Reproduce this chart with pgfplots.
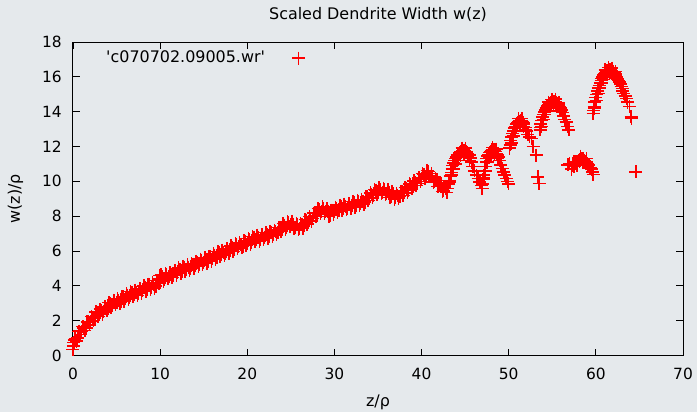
\documentclass[border=0pt]{standalone}
\usepackage{fontspec}
\setmainfont{DejaVu Sans}
\usepackage{pgfplots}
\pgfplotsset{compat=1.18}
\definecolor{bgc}{RGB}{229,233,236}
\pgfplotstableread{
x y
0.00 0.35
0.05 0.55
0.10 0.75
0.15 0.90
0.25 0.98
0.50 1.00
0.75 1.40
1.00 1.37
1.25 1.59
1.50 1.58
1.75 1.95
2.00 1.94
2.25 2.21
2.50 2.15
2.75 2.47
3.00 2.40
3.25 2.57
3.50 2.50
3.75 2.81
4.00 2.74
4.25 2.96
4.50 2.85
4.75 3.13
5.00 3.03
5.25 3.17
5.50 3.08
5.75 3.36
6.00 3.26
6.25 3.47
6.50 3.35
6.75 3.62
7.00 3.50
7.25 3.64
7.50 3.55
7.75 3.83
8.00 3.72
8.25 3.91
8.50 3.78
8.75 4.05
9.00 3.92
9.25 4.07
9.50 3.98
9.75 4.30
9.90 4.60
10.00 4.39
10.25 4.53
10.50 4.35
10.75 4.64
11.00 4.53
11.25 4.67
11.50 4.58
11.75 4.86
12.00 4.76
12.25 4.95
12.50 4.81
12.75 5.08
13.00 4.95
13.25 5.08
13.50 4.98
13.75 5.25
14.00 5.14
14.25 5.33
14.50 5.20
14.75 5.47
15.00 5.35
15.25 5.49
15.50 5.39
15.75 5.67
16.00 5.56
16.25 5.76
16.50 5.64
16.75 5.91
17.00 5.80
17.25 5.94
17.50 5.85
17.75 6.12
18.00 6.02
18.25 6.22
18.50 6.09
18.75 6.37
19.00 6.25
19.25 6.38
19.50 6.28
19.75 6.55
20.00 6.44
20.25 6.64
20.50 6.51
20.75 6.79
21.00 6.67
21.25 6.78
21.50 6.67
21.75 6.92
22.00 6.79
22.25 6.96
22.50 6.82
22.75 7.07
23.00 6.93
23.25 7.10
23.50 7.05
23.75 7.36
24.00 7.29
24.25 7.48
24.50 7.35
24.75 7.62
25.00 7.50
25.25 7.53
25.50 7.33
25.75 7.50
26.00 7.29
26.25 7.53
26.50 7.45
26.75 7.77
27.00 7.70
27.25 7.89
27.50 7.86
27.75 8.19
28.00 8.14
28.25 8.36
28.50 8.25
28.75 8.45
29.00 8.25
29.25 8.26
29.50 8.03
29.75 8.33
30.00 8.24
30.25 8.43
30.50 8.30
30.75 8.57
31.00 8.45
31.25 8.57
31.50 8.46
31.75 8.71
32.00 8.59
32.25 8.76
32.50 8.60
32.75 8.85
33.00 8.70
33.25 8.87
33.50 8.81
33.75 9.11
34.00 9.04
34.25 9.27
34.50 9.18
34.75 9.48
35.00 9.40
35.25 9.51
35.50 9.38
35.75 9.53
36.00 9.29
36.25 9.37
36.50 9.13
36.75 9.28
37.00 9.05
37.25 9.21
37.50 9.13
37.75 9.43
38.00 9.34
38.25 9.58
38.50 9.50
38.75 9.82
39.00 9.75
39.25 9.93
39.50 9.88
39.75 10.20
40.00 10.14
40.25 10.38
40.50 10.30
40.75 10.57
41.00 10.30
41.25 10.26
41.50 9.98
41.75 10.05
42.00 9.74
42.25 9.76
42.50 9.45
42.75 9.58
}\mainA
\pgfplotstableread{
x y
0.375 0.82
0.625 1.39
0.875 1.20
1.125 1.66
1.375 1.43
1.625 1.93
1.875 1.76
2.125 2.25
2.375 2.01
2.625 2.50
2.875 2.25
3.125 2.66
3.375 2.38
3.625 2.82
3.875 2.59
4.125 3.03
4.375 2.73
4.625 3.18
4.875 2.90
5.125 3.28
5.375 2.97
5.625 3.38
5.875 3.12
6.125 3.54
6.375 3.24
6.625 3.68
6.875 3.38
7.125 3.75
7.375 3.44
7.625 3.85
7.875 3.58
8.125 4.00
8.375 3.68
8.625 4.10
8.875 3.80
9.125 4.17
9.375 3.87
9.625 4.30
9.875 4.16
10.125 4.64
10.375 4.27
10.625 4.68
10.875 4.40
11.125 4.78
11.375 4.47
11.625 4.88
11.875 4.62
12.125 5.03
12.375 4.71
12.625 5.13
12.875 4.83
13.125 5.20
13.375 4.88
13.625 5.28
13.875 5.01
14.125 5.42
14.375 5.10
14.625 5.53
14.875 5.23
15.125 5.60
15.375 5.28
15.625 5.69
15.875 5.42
16.125 5.84
16.375 5.53
16.625 5.96
16.875 5.67
17.125 6.05
17.375 5.74
17.625 6.14
17.875 5.88
18.125 6.30
18.375 5.98
18.625 6.42
18.875 6.12
19.125 6.50
19.375 6.18
19.625 6.58
19.875 6.31
20.125 6.72
20.375 6.40
20.625 6.84
20.875 6.54
21.125 6.91
21.375 6.57
21.625 6.95
21.875 6.67
22.125 7.06
22.375 6.72
22.625 7.13
22.875 6.82
23.125 7.20
23.375 6.92
23.625 7.36
23.875 7.14
24.125 7.57
24.375 7.25
24.625 7.68
24.875 7.38
25.125 7.70
25.375 7.28
25.625 7.58
25.875 7.21
26.125 7.59
26.375 7.32
26.625 7.80
26.875 7.55
27.125 7.98
27.375 7.72
27.625 8.18
27.875 7.98
28.125 8.43
28.375 8.13
28.625 8.54
28.875 8.16
29.125 8.43
29.375 7.99
29.625 8.34
29.875 8.09
30.125 8.52
30.375 8.20
30.625 8.63
30.875 8.33
31.125 8.69
31.375 8.36
31.625 8.74
31.875 8.46
32.125 8.85
32.375 8.51
32.625 8.91
32.875 8.59
33.125 8.97
33.375 8.68
33.625 9.12
33.875 8.89
34.125 9.34
34.375 9.05
34.625 9.52
34.875 9.26
35.125 9.63
35.375 9.29
35.625 9.61
35.875 9.22
36.125 9.51
36.375 9.08
36.625 9.39
36.875 8.98
37.125 9.31
37.375 9.01
37.625 9.44
37.875 9.19
38.125 9.64
38.375 9.37
38.625 9.85
38.875 9.60
39.125 10.02
39.375 9.75
39.625 10.20
39.875 9.98
40.125 10.44
40.375 10.17
40.625 10.63
40.875 10.25
41.125 10.46
41.375 9.96
41.625 10.18
41.875 9.71
42.125 9.93
42.375 9.43
42.625 9.71
}\mainB
\pgfplotstableread{
x y
42.90 9.35
43.00 9.60
43.10 9.85
43.20 10.05
43.30 10.30
43.40 10.50
43.50 10.70
43.60 10.90
43.70 11.05
43.80 11.20
43.90 11.30
44.00 11.40
44.10 11.50
44.20 11.55
44.30 11.60
44.40 11.65
44.50 11.70
44.60 11.72
44.70 11.75
44.80 11.78
44.90 11.75
45.00 11.72
45.10 11.70
45.20 11.65
45.30 11.60
45.45 11.50
45.60 11.35
45.75 11.10
45.90 10.85
46.10 10.60
46.30 10.35
46.50 10.15
46.70 9.95
46.85 9.75
46.95 9.60
43.25 9.95
43.45 10.35
43.65 10.70
43.85 11.00
44.05 11.20
44.25 11.40
44.45 11.50
44.65 11.90
44.85 11.55
45.05 11.90
45.25 11.45
45.50 11.20
47.00 9.85
47.05 10.10
47.10 10.35
47.20 10.60
47.30 10.85
47.40 11.10
47.50 11.30
47.60 11.45
47.70 11.55
47.80 11.65
47.90 11.72
48.00 11.78
48.10 11.80
48.20 11.82
48.30 11.80
48.40 11.75
48.50 11.70
48.60 11.60
48.70 11.50
48.80 11.40
48.95 11.20
49.10 10.95
49.25 10.75
49.40 10.55
49.55 10.35
49.70 10.15
49.85 10.00
50.00 9.85
47.15 10.20
47.35 10.60
47.55 11.10
47.75 11.35
47.95 11.55
48.15 11.95
48.35 11.60
48.55 11.85
48.75 11.30
50.10 11.90
50.15 12.10
50.25 12.35
50.35 12.55
50.45 12.75
50.55 12.90
50.65 13.05
50.75 13.15
50.85 13.25
50.95 13.30
51.05 13.38
51.15 13.42
51.25 13.45
51.35 13.47
51.45 13.45
51.55 13.42
51.65 13.35
51.75 13.25
51.90 13.10
52.05 12.90
52.20 12.70
52.40 12.55
52.60 12.45
52.80 12.00
53.15 11.50
53.35 10.25
53.50 9.88
50.30 12.20
50.50 12.60
50.70 12.85
50.90 13.10
51.10 13.60
51.30 13.25
51.50 13.60
51.70 13.15
51.95 12.95
53.60 12.95
53.65 13.10
53.70 13.30
53.80 13.50
53.90 13.70
54.00 13.85
54.10 13.98
54.20 14.10
54.30 14.20
54.40 14.28
54.50 14.35
54.60 14.40
54.70 14.45
54.80 14.50
54.90 14.52
55.00 14.55
55.10 14.57
55.20 14.58
55.30 14.57
55.40 14.55
55.50 14.50
55.60 14.45
55.70 14.38
55.80 14.30
55.90 14.20
56.00 14.10
56.15 13.95
56.30 13.75
56.45 13.55
56.60 13.40
56.75 13.15
56.90 12.95
53.75 13.15
53.95 13.55
54.15 13.85
54.35 14.05
54.55 14.55
54.75 14.30
54.95 14.70
55.15 14.35
55.35 14.72
55.55 14.30
55.75 14.50
55.95 14.05
56.80 10.95
57.00 11.00
57.20 10.70
57.30 10.90
57.40 11.00
57.50 10.85
57.60 11.00
57.70 11.10
57.80 11.05
57.90 11.15
58.00 11.20
58.10 11.15
58.20 11.25
58.30 11.28
58.40 11.30
58.50 11.30
58.60 11.25
58.70 11.20
58.80 11.15
58.90 11.10
59.00 11.00
59.10 10.95
59.20 10.90
59.35 10.80
59.50 10.70
59.65 10.55
59.70 10.40
57.45 11.15
57.85 10.90
58.25 11.45
58.55 11.10
58.95 11.30
59.25 10.75
59.70 13.90
59.72 14.08
59.80 14.30
59.90 14.55
60.00 14.80
60.10 15.00
60.20 15.20
60.30 15.35
60.40 15.50
60.50 15.65
60.60 15.78
60.70 15.90
60.80 16.00
60.90 16.10
61.00 16.18
61.10 16.25
61.20 16.30
61.30 16.35
61.40 16.38
61.50 16.40
61.60 16.40
61.70 16.38
61.80 16.35
61.90 16.32
62.00 16.28
62.10 16.22
62.20 16.15
62.30 16.08
62.40 16.00
62.50 15.90
62.60 15.80
62.70 15.70
62.80 15.58
62.90 15.45
63.00 15.32
63.10 15.20
63.20 15.05
63.35 14.90
63.50 14.75
63.65 14.55
63.85 14.30
64.05 13.70
64.10 13.60
64.60 10.55
59.85 14.20
60.05 14.65
60.25 15.05
60.45 15.35
60.65 15.65
60.85 15.85
61.05 16.40
61.25 16.15
61.45 16.55
61.65 16.25
61.85 16.50
62.05 16.10
62.25 16.30
62.45 15.85
}\humps
\begin{document}
\fontsize{16}{19}\selectfont
\begin{tikzpicture}
\fill[bgc] (-73bp,-56.5bp) rectangle (624bp,355.5bp);
\begin{axis}[
  at={(0,0)}, anchor=south west,
  scale only axis, width=610bp, height=313.5bp,
  xmin=0, xmax=70, ymin=0, ymax=18,
  xtick={0,10,...,70}, ytick={0,2,...,18},
  tick align=inside, major tick length=7bp,
  every tick/.style={black, line width=0.9bp},
  axis line style={black, line width=1bp},
  /pgf/number format/assume math mode=true,
  font=\fontsize{16}{19}\selectfont,
  tick label style={font=\fontsize{15.5}{18}\selectfont},
  x tick label style={inner sep=0pt, anchor=north, yshift=-12.5bp},
  y tick label style={inner sep=0pt, anchor=east, xshift=-11bp},
  every axis title/.style={at={(axis description cs:0.5,1.0702)}, anchor=base},
  every axis x label/.style={at={(axis description cs:0.5,-0.1627)}, anchor=base},
  every axis y label/.style={at={(axis description cs:-0.0869,0.5)}, rotate=90, anchor=base},
  title={Scaled Dendrite Width w(z)},
  xlabel={z/ρ}, ylabel={w(z)/ρ},
  clip=false,
  legend plot pos=right,
  legend cell align=right,
  legend style={draw=none, fill=none, at={(axis description cs:0.046,0.985)}, anchor=north west, font=\fontsize{16}{19}\selectfont},
  legend image code/.code={\path (0bp,0bp); \draw[red, mark repeat=2,mark phase=2] plot coordinates {(0bp,0bp) (31.5bp,0bp) (63bp,0bp)};},
  mymarks/.style={only marks, mark=+, mark size=6.5bp, color=red, mark options={draw=red, line width=1.5bp}},
]
\addplot[mymarks] table {\mainA};
\addlegendentry{\textquotesingle c070702.09005.wr\textquotesingle}
\addplot[mymarks, forget plot] table {\mainB};
\addplot[mymarks, forget plot] table {\humps};
\end{axis}
\end{tikzpicture}
\end{document}
